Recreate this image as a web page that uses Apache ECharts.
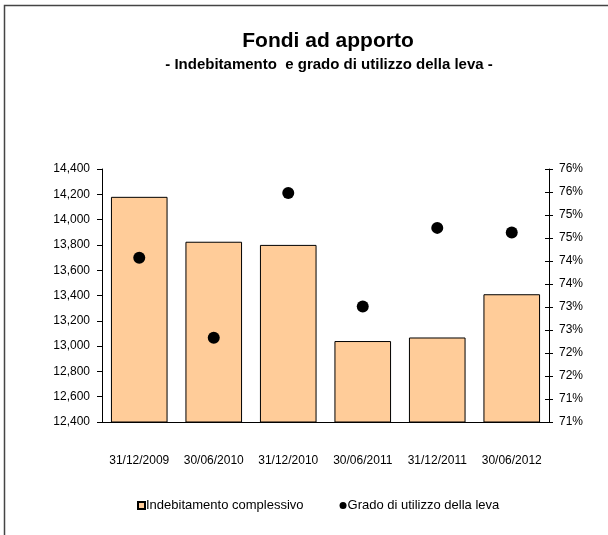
<!DOCTYPE html>
<html>
<head>
<meta charset="utf-8">
<script src="https://cdn.jsdelivr.net/npm/echarts@6/dist/echarts.min.js"></script>
<style>html,body{margin:0;padding:0;background:#fff;}#c{width:608px;height:535px;}</style>
</head>
<body>
<div id="c"></div>
<script>
var categories = ['31/12/2009','30/06/2010','31/12/2010','30/06/2011','31/12/2011','30/06/2012'];
var debt = [14180, 13825, 13800, 13040, 13068, 13410];
var leverage = [74.07, 72.33, 75.48, 73.01, 74.72, 74.62];
var leftTicks = {min: 12400, max: 14400, step: 200};
var rightTicks = {min: 70.5, max: 76, step: 0.5};

var FONT = '"Liberation Sans", Arial, sans-serif';
var chart = echarts.init(document.getElementById('c'));
chart.setOption({
  animation: false,
  textStyle: {fontFamily: FONT},
  title: [
    {text: 'Fondi ad apporto', left: 323, top: 26, textAlign: 'center',
     textStyle: {fontFamily: FONT, fontSize: 21, fontWeight: 'bold', color: '#000'}},
    {text: '- Indebitamento  e grado di utilizzo della leva -', left: 324, top: 52, textAlign: 'center',
     textStyle: {fontFamily: FONT, fontSize: 15, fontWeight: 'bold', color: '#000'}}
  ],
  graphic: [{type: 'rect', shape: {x: 4.5, y: 5.5, width: 800, height: 800},
    style: {fill: 'none', stroke: '#444', lineWidth: 1.5}, silent: true}],
  legend: {
    left: 132, top: 494, itemGap: 36, itemWidth: 7, itemHeight: 7,
    textStyle: {fontFamily: FONT, fontSize: 13, color: '#000', padding: [0,0,0,-4]},
    data: [{name: 'Indebitamento complessivo', icon: 'rect'}, {name: 'Grado di utilizzo della leva', icon: 'circle'}]
  },
  grid: {left: 102, right: 59, top: 169, bottom: 113},
  xAxis: {
    type: 'category', data: categories,
    axisLine: {lineStyle: {color: '#000', width: 1}},
    axisTick: {length: 5, lineStyle: {color: '#000'}},
    axisLabel: {color: '#000', fontSize: 12, margin: 33, interval: 0, fontFamily: FONT}
  },
  yAxis: [
    {type: 'value', position: 'left', min: leftTicks.min, max: leftTicks.max, interval: leftTicks.step,
     axisLine: {show: true, lineStyle: {color: '#000'}},
     axisTick: {show: true, length: 5, lineStyle: {color: '#000'}},
     splitLine: {show: false},
     axisLabel: {color: '#000', fontSize: 12, margin: 12, fontFamily: FONT,
       formatter: function (v) { return v.toLocaleString('en-US'); }}},
    {type: 'value', position: 'right', min: rightTicks.min, max: rightTicks.max, interval: rightTicks.step,
     axisLine: {show: true, lineStyle: {color: '#000'}},
     axisTick: {show: true, length: 4, lineStyle: {color: '#000'}},
     splitLine: {show: false},
     axisLabel: {color: '#000', fontSize: 12, margin: 10, fontFamily: FONT,
       formatter: function (v) { return Math.round(v) + '%'; }}},
    {type: 'value', position: 'right', min: rightTicks.min, max: rightTicks.max, interval: rightTicks.step,
     axisLine: {show: false}, axisLabel: {show: false}, splitLine: {show: false},
     axisTick: {show: true, inside: true, length: 4, lineStyle: {color: '#000'}}}
  ],
  series: [
    {name: 'Indebitamento complessivo', type: 'bar', data: debt, yAxisIndex: 0, barCategoryGap: '24%',
     itemStyle: {color: '#FFCC99', borderColor: '#000', borderWidth: 1}},
    {name: 'Grado di utilizzo della leva', type: 'scatter', data: leverage, yAxisIndex: 1,
     symbol: 'circle', symbolSize: 12, itemStyle: {color: '#000', opacity: 1}}
  ]
});
</script>
</body>
</html>
